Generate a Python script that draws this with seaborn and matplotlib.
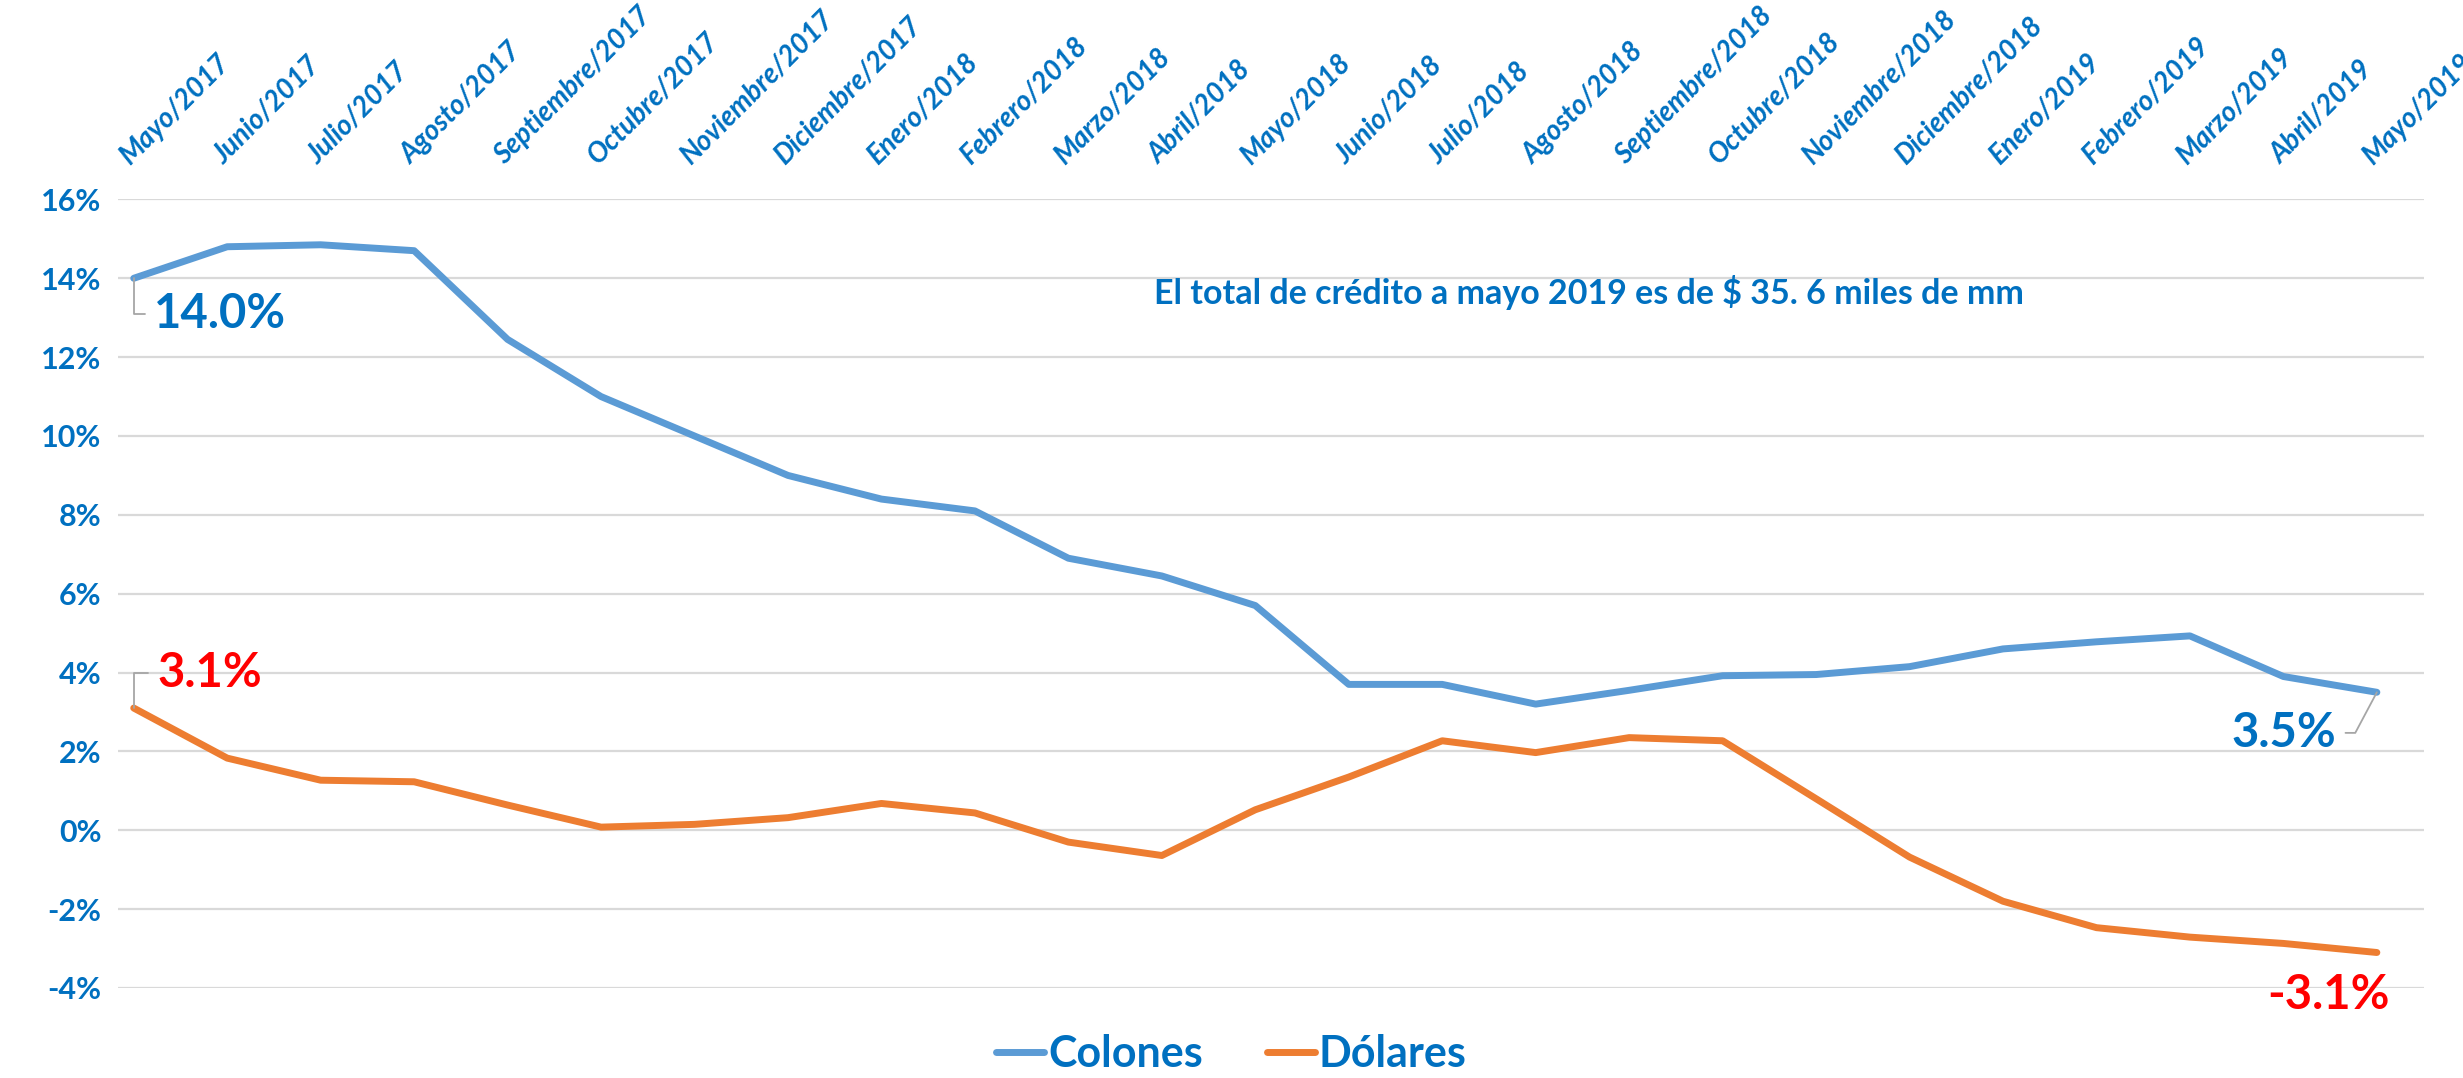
import matplotlib
matplotlib.use("Agg")
import matplotlib.pyplot as plt
import seaborn as sns
import pandas as pd

# datos: crecimiento interanual del crédito por moneda
meses = ["Mayo/2017", "Junio/2017", "Julio/2017", "Agosto/2017", "Septiembre/2017",
         "Octubre/2017", "Noviembre/2017", "Diciembre/2017", "Enero/2018", "Febrero/2018",
         "Marzo/2018", "Abril/2018", "Mayo/2018", "Junio/2018", "Julio/2018",
         "Agosto/2018", "Septiembre/2018", "Octubre/2018", "Noviembre/2018", "Diciembre/2018",
         "Enero/2019", "Febrero/2019", "Marzo/2019", "Abril/2019", "Mayo/2019"]
colones = [14.0, 14.8, 14.85, 14.7, 12.45, 11.0, 10.0, 9.0, 8.4, 8.1,
           6.9, 6.45, 5.7, 3.7, 3.7, 3.2, 3.55, 3.92, 3.95, 4.15,
           4.6, 4.78, 4.93, 3.9, 3.5]
dolares = [3.1, 1.83, 1.27, 1.23, 0.64, 0.08, 0.15, 0.32, 0.68, 0.44,
           -0.3, -0.64, 0.52, 1.35, 2.27, 1.97, 2.35, 2.27, 0.8, -0.68,
           -1.8, -2.47, -2.71, -2.87, -3.1]
series = ["Colones", "Dólares"]
yticks = [-4, -2, 0, 2, 4, 6, 8, 10, 12, 14, 16]

azul_txt = "#0070C0"
colores = {"Colones": "#5B9BD5", "Dólares": "#ED7D31"}

sns.set_style("white")
plt.rcParams["font.family"] = ["Lato", "DejaVu Sans"]

n = len(meses)
df = pd.DataFrame({
    "pos": list(range(n)) * 2,
    "valor": colones + dolares,
    "serie": [series[0]] * n + [series[1]] * n,
})

fig = plt.figure(figsize=(24.63, 10.78), dpi=100)
ax = fig.add_axes([0.048, 0.0835, 0.936, 0.7315])

sns.lineplot(data=df, x="pos", y="valor", hue="serie", palette=colores,
             linewidth=5, ax=ax, legend=False)

ax.set_xlim(-0.166, n - 1 + 0.5)
ax.set_ylim(-4, 16)
ax.set_yticks(yticks)
ax.set_yticklabels([f"{v}%" for v in yticks], fontsize=22, fontweight="bold", color=azul_txt)
ax.yaxis.grid(True, color="#D9D9D9", linewidth=1.6)
ax.xaxis.grid(False)
ax.set_xlabel("")
ax.set_ylabel("")

ax.xaxis.tick_top()
ax.set_xticks(range(n))
ax.set_xticklabels(meses, rotation=45, ha="left", va="bottom", rotation_mode="anchor",
                   fontsize=20, fontweight="bold", fontstyle="italic", color=azul_txt)
ax.tick_params(axis="x", length=0, pad=22)
ax.tick_params(axis="y", length=0, pad=12)
for s in ax.spines.values():
    s.set_visible(False)

# etiquetas de los extremos
guia = dict(arrowstyle="-", color="#A6A6A6", lw=1.3, shrinkA=4, shrinkB=0)
ax.annotate("14.0%", xy=(0, colones[0]), xytext=(0.22, 13.1), ha="left", va="center",
            fontsize=34, fontweight="bold", color=azul_txt,
            arrowprops=dict(guia, connectionstyle="angle,angleA=180,angleB=90,rad=0"))
ax.annotate("3.1%", xy=(0, dolares[0]), xytext=(0.25, 4.0), ha="left", va="center",
            fontsize=34, fontweight="bold", color="#FF0000",
            arrowprops=dict(guia, connectionstyle="angle,angleA=180,angleB=90,rad=0"))
ax.annotate("3.5%", xy=(n - 1, colones[-1]), xytext=(23.57, 2.47), ha="right", va="center",
            fontsize=34, fontweight="bold", color=azul_txt,
            arrowprops=dict(guia, connectionstyle="angle,angleA=0,angleB=62,rad=0"))
ax.annotate("-3.1%", xy=(n - 1, dolares[-1]), xytext=(24.14, -4.18), ha="right", va="center",
            fontsize=34, fontweight="bold", color="#FF0000")

ax.text(10.92, 13.63, "El total de crédito a mayo 2019 es de $ 35. 6 miles de mm",
        ha="left", va="center", fontsize=24.5, fontweight="bold", color=azul_txt)

handles = [plt.Line2D([], [], color=colores[s], linewidth=5, solid_capstyle="round") for s in series]
leg = fig.legend(handles, series, loc="center", bbox_to_anchor=(0.5, 0.022), ncol=2,
                 frameon=False, handlelength=1.1, columnspacing=1.5, handletextpad=0.1,
                 prop={"size": 31, "weight": "bold"})
for t in leg.get_texts():
    t.set_color(azul_txt)

fig.savefig("out.png", dpi=100)
